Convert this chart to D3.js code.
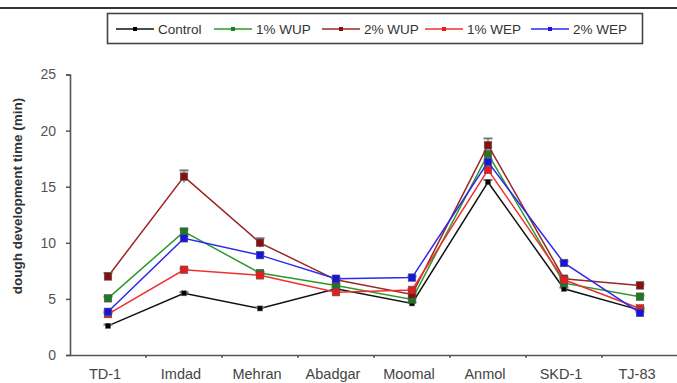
<!DOCTYPE html>
<html>
<head>
<meta charset="utf-8">
<script src="https://cdn.jsdelivr.net/npm/d3@7"></script>
<style>
  html, body { margin: 0; padding: 0; background: #fff; }
  svg { display: block; font-family: "Liberation Sans", Arial, sans-serif; }
</style>
</head>
<body>
<svg id="chart" width="677" height="383"></svg>
<script>
// Wheat cultivars
const cultivars = ["TD-1", "Imdad", "Mehran", "Abadgar", "Moomal", "Anmol", "SKD-1", "TJ-83"];

// Dough development time (min) per treatment
const control = [2.6, 5.5, 4.15, 5.9, 4.6, 15.4, 5.9, 4.0];
const wup1    = [5.05, 11.0, 7.3, 6.2, 4.95, 17.9, 6.4, 5.2];
const wup2    = [7.0, 15.9, 10.0, 6.7, 5.4, 18.7, 6.8, 6.2];
const wep1    = [3.65, 7.6, 7.1, 5.6, 5.8, 16.5, 6.7, 4.15];
const wep2    = [3.85, 10.4, 8.9, 6.8, 6.9, 17.2, 8.2, 3.75];

// Standard deviations
const controlErr = [0.1, 0.1, 0.1, 0.1, 0.1, 0.2, 0.1, 0.1];
const wup1Err    = [0.15, 0.2, 0.1, 0.1, 0.1, 0.2, 0.1, 0.1];
const wup2Err    = [0.3, 0.55, 0.4, 0.1, 0.1, 0.6, 0.1, 0.1];
const wep1Err    = [0.1, 0.1, 0.1, 0.1, 0.1, 0.2, 0.1, 0.1];
const wep2Err    = [0.1, 0.2, 0.15, 0.1, 0.1, 0.2, 0.15, 0.1];

const yTicks = [0, 5, 10, 15, 20, 25];

const series = [
  { name: "Control", values: control, err: controlErr, color: "#111111", marker: "#000000", size: 5 },
  { name: "1% WUP",  values: wup1,    err: wup1Err,    color: "#2a9a2a", marker: "#1e7a1e", size: 7.5 },
  { name: "2% WUP",  values: wup2,    err: wup2Err,    color: "#9a2626", marker: "#8a1010", size: 7.5 },
  { name: "1% WEP",  values: wep1,    err: wep1Err,    color: "#f03030", marker: "#ee1a1a", size: 7.5 },
  { name: "2% WEP",  values: wep2,    err: wep2Err,    color: "#2a2af0", marker: "#1414e6", size: 7.5 }
];

const svg = d3.select("#chart");
const margin = { left: 70, bottom: 355 };

const x = d3.scaleBand().domain(cultivars).range([70, 678]);
const y = d3.scaleLinear().domain([0, 25]).range([355, 74.5]);

// Rule across the top
svg.append("line")
  .attr("x1", 0).attr("x2", 677).attr("y1", 8).attr("y2", 8)
  .attr("stroke", "#333").attr("stroke-width", 2);

// Y axis
const yAxis = svg.append("g")
  .attr("transform", `translate(${margin.left},0)`)
  .call(d3.axisLeft(y).tickValues(yTicks).tickSize(4).tickPadding(10));
yAxis.select(".domain").attr("stroke", "#555").attr("stroke-width", 1.6);
yAxis.selectAll(".tick line").attr("stroke", "#555").attr("stroke-width", 1.5);
yAxis.selectAll(".tick text").attr("font-size", 14).attr("fill", "#555")
  .attr("font-family", "Liberation Sans, Arial, sans-serif");

// X axis
const xAxis = svg.append("g")
  .attr("transform", `translate(0,${margin.bottom})`)
  .call(d3.axisBottom(x).tickSize(0).tickPadding(14));
xAxis.select(".domain").attr("stroke", "#555").attr("stroke-width", 1.6);
xAxis.selectAll(".tick text").attr("font-size", 14.5).attr("fill", "#444")
  .attr("font-family", "Liberation Sans, Arial, sans-serif")
  .attr("dx", -3);

// Small tick marks between categories
svg.append("g").selectAll("line")
  .data(cultivars.slice(1))
  .join("line")
  .attr("x1", d => x(d)).attr("x2", d => x(d))
  .attr("y1", 355).attr("y2", 358)
  .attr("stroke", "#555").attr("stroke-width", 1.5);

// Y axis title
svg.append("text")
  .attr("transform", "translate(22,196) rotate(-90)")
  .attr("text-anchor", "middle")
  .attr("font-size", 13.5)
  .attr("font-weight", "bold")
  .attr("fill", "#333")
  .text("dough development time (min)");

const cx = d => x(d) + x.bandwidth() / 2;

const line = d3.line()
  .x((d, i) => cx(cultivars[i]))
  .y(d => y(d));

// Series
series.forEach(s => {
  const g = svg.append("g");
  g.append("path")
    .datum(s.values)
    .attr("d", line)
    .attr("fill", "none")
    .attr("stroke", s.color)
    .attr("stroke-width", 1.5);

  // error bars
  g.selectAll("g.err")
    .data(s.values.map((v, i) => ({ v, e: s.err[i], c: cultivars[i] })))
    .join("g")
    .each(function(d) {
      const e = d3.select(this);
      e.append("line")
        .attr("x1", cx(d.c)).attr("x2", cx(d.c))
        .attr("y1", y(d.v + d.e)).attr("y2", y(d.v - d.e))
        .attr("stroke", "#666").attr("stroke-width", 1.2);
      e.append("line")
        .attr("x1", cx(d.c) - 4.5).attr("x2", cx(d.c) + 4.5)
        .attr("y1", y(d.v + d.e)).attr("y2", y(d.v + d.e))
        .attr("stroke", "#777").attr("stroke-width", 2);
    });

  g.selectAll("rect")
    .data(s.values)
    .join("rect")
    .attr("x", (d, i) => cx(cultivars[i]) - s.size / 2)
    .attr("y", d => y(d) - s.size / 2)
    .attr("width", s.size)
    .attr("height", s.size)
    .attr("fill", s.marker)
    .attr("stroke", "#555")
    .attr("stroke-width", 0.6);
});

// Legend
const legend = svg.append("g");
legend.append("rect")
  .attr("x", 107.5).attr("y", 13.5).attr("width", 535).attr("height", 30)
  .attr("fill", "#fff").attr("stroke", "#444").attr("stroke-width", 1.6);

const legendX = [116, 214, 322, 425, 531];
series.forEach((s, i) => {
  const lx = legendX[i];
  const ly = 29;
  legend.append("line")
    .attr("x1", lx).attr("x2", lx + 38).attr("y1", ly).attr("y2", ly)
    .attr("stroke", s.color).attr("stroke-width", 1.6);
  legend.append("rect")
    .attr("x", lx + 19 - 2).attr("y", ly - 2).attr("width", 4).attr("height", 4)
    .attr("fill", s.marker);
  legend.append("text")
    .attr("x", lx + 42).attr("y", ly + 5)
    .attr("font-size", 13.5).attr("fill", "#333")
    .text(s.name);
});
</script>
</body>
</html>
